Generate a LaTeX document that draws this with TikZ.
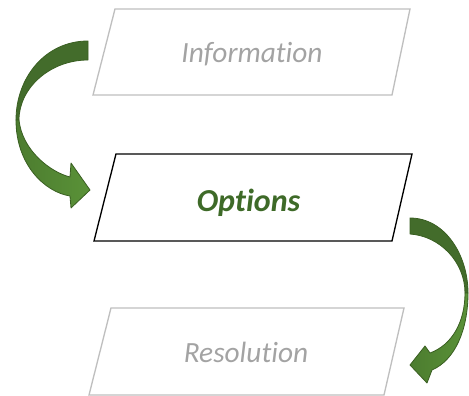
\documentclass[tikz,border=0pt]{standalone}
\usepackage{fontspec}
\setmainfont{Carlito}[Ligatures=NoCommon]
\definecolor{boxgray}{HTML}{BFBFBF}
\definecolor{textgray}{HTML}{A3A3A3}
\definecolor{optgreen}{HTML}{3E6A28}
\definecolor{arrowdark}{HTML}{436C2B}
\definecolor{arrowmidA}{HTML}{4C7C2F}
\definecolor{arrowmidB}{HTML}{5A9238}
\definecolor{arrowline}{HTML}{3A5F22}
\begin{document}
\begin{tikzpicture}[x=0.75pt,y=-0.75pt,
  stagebox/.style={line width=1pt, line join=miter},
  faded/.style={stagebox, draw=boxgray},
  active/.style={stagebox, draw=black},
  label/.style={anchor=base, inner sep=0pt, font=\fontsize{22}{26}\selectfont\itshape},
  backpart/.style={fill=arrowdark, draw=arrowline, line width=0.6pt, line join=round},
  frontpart/.style={left color=arrowmidA, right color=arrowmidB, draw=arrowline, line width=0.6pt, line join=round}]
\useasboundingbox (0,0) rectangle (469,396);

% the three stages
\draw[faded]  (115,9) -- (410,9) -- (392,95) -- (93,95) -- cycle;
\draw[active] (116,154) -- (412,154) -- (392,241) -- (94,241) -- cycle;
\draw[faded]  (111,308) -- (404,308) -- (384,395) -- (89,395) -- cycle;

\node[label, text=textgray] (info) at (252,62) {Information};
\node[label, text=optgreen, font=\fontsize{24}{28}\selectfont\bfseries\itshape] (opts) at (248.5,211) {Options};
\node[label, text=textgray] (res) at (246,363) {Resolution};

% left curved arrow: Information -> Options
\path[backpart] (88,41) .. controls (45,41) and (16,78) .. (16,120)
  -- (19,120) .. controls (19,88) and (50,60) .. (88,60) -- cycle;
\path[frontpart] (16,120) .. controls (16,165) and (45,192) .. (70,196)
  -- (71,208) -- (90,190) -- (71,163) -- (70,177)
  .. controls (50,172) and (22,150) .. (19,120) -- cycle;

% right curved arrow: Options -> Resolution
\path[backpart] (410,218) .. controls (445,218) and (468,255) .. (468,293)
  -- (465,293) .. controls (465,262) and (440,236) .. (410,234) -- cycle;
\path[frontpart] (468,293) .. controls (468,330) and (455,360) .. (432,370)
  -- (427,383) -- (410,365) -- (425,346) -- (430,353)
  .. controls (452,345) and (465,322) .. (465,293) -- cycle;
\end{tikzpicture}
\end{document}
